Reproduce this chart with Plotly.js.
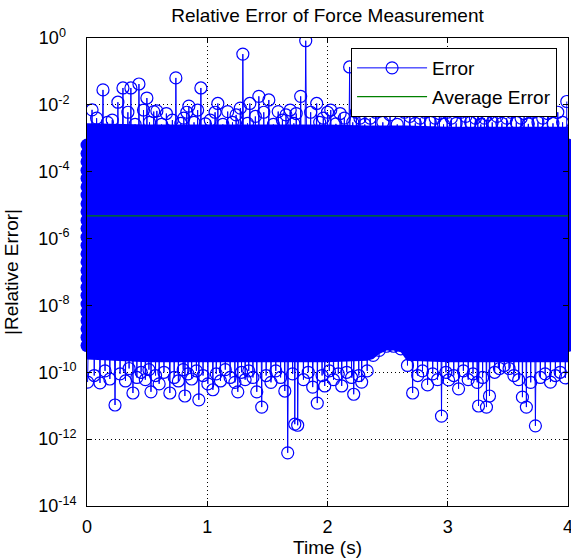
<!DOCTYPE html>
<html>
<head>
<meta charset="utf-8">
<script src="https://cdn.plot.ly/plotly-3.0.1.min.js"></script>
<style>html,body{margin:0;padding:0;background:#fff;}#chart{width:571px;height:560px;}</style>
</head>
<body>
<div id="chart"></div>
<script>
// ---- data ----
// Error series (time in s, |relative error|), sampled along the dense band and its outliers
var time = [0.005,0.042,0.06,0.08,0.108,0.133,0.15,0.17,0.19,0.21,0.233,0.257,0.275,0.299,0.32,0.34,0.35,0.365,0.382,0.40,
0.415,0.432,0.45,0.47,0.485,0.498,0.515,0.52,0.532,0.555,0.57,0.581,0.60,0.62,0.64,0.66,0.689,0.71,0.725,0.739,
0.76,0.78,0.80,0.805,0.814,0.83,0.84,0.847,0.87,0.89,0.91,0.92,0.93,0.947,0.965,0.985,1.005,1.025,1.047,1.065,
1.075,1.088,1.11,1.13,1.15,1.17,1.19,1.21,1.23,1.24,1.254,1.275,1.285,1.296,1.315,1.335,1.345,1.354,1.38,1.40,
1.412,1.429,1.453,1.47,1.49,1.512,1.53,1.55,1.57,1.59,1.61,1.625,1.645,1.655,1.669,1.69,1.71,1.72,1.728,1.74,
1.752,1.777,1.80,1.819,1.84,1.86,1.877,1.91,1.915,1.935,1.955,1.965,1.977,2.00,2.015,2.027,2.05,2.07,2.09,2.105,
2.118,2.14,2.16,2.184,2.20,2.21,2.218,2.24,2.26,2.27,2.284,2.31,2.33,2.355,2.38,2.40,2.43,2.46,2.49,2.52,
2.55,2.58,2.61,2.64,2.665,2.685,2.708,2.73,2.75,2.77,2.79,2.81,2.832,2.855,2.875,2.895,2.915,2.93,2.948,2.965,
2.985,2.995,3.007,3.03,3.05,3.07,3.09,3.11,3.13,3.15,3.17,3.19,3.21,3.23,3.245,3.25,3.256,3.275,3.29,3.305,
3.322,3.335,3.347,3.37,3.39,3.41,3.43,3.45,3.47,3.49,3.51,3.53,3.55,3.57,3.59,3.61,3.621,3.635,3.654,3.67,
3.69,3.71,3.729,3.75,3.77,3.79,3.81,3.83,3.854,3.875,3.895,3.915,3.935,3.955,3.978,3.99];
var err = [5.1e-11,7.1e-3,8e-11,4e-3,4.8e-11,2.8e-2,1.1e-10,3e-3,6.3e-11,3.5e-3,1.05e-11,1.2e-2,9e-11,3.2e-2,5.5e-11,6e-3,1.3e-10,3.2e-2,2.4e-11,2.6e-3,
7e-11,4.2e-2,1e-10,7e-3,6e-11,1.6e-2,1.2e-10,3e-3,2.6e-11,6.3e-3,8e-11,6.6e-3,4.5e-11,2.6e-3,1e-10,5.5e-3,2.4e-11,3.5e-3,7e-11,6.4e-2,
5.5e-11,2.8e-3,1.2e-10,4e-3,1.95e-11,6e-3,9e-11,9.2e-3,6.3e-11,3e-3,1.1e-10,7e-3,1.5e-11,3.2e-2,8e-11,2.7e-3,4.5e-11,3.5e-3,3.0e-11,6e-3,
9e-11,1.1e-2,5.5e-11,2.6e-3,1.2e-10,6.3e-3,7e-11,3e-3,5e-11,5e-3,2.6e-11,8e-3,1e-10,0.33,6e-11,2.8e-3,1.1e-10,1.1e-2,7e-11,4.5e-3,
2.6e-11,1.8e-2,9.1e-12,6e-3,8e-11,1.4e-2,5e-11,2.6e-3,1.1e-10,6.3e-3,7e-11,3.5e-3,2.75e-11,5e-3,3.9e-13,7e-3,9e-11,2.8e-3,2.8e-12,5.5e-3,
2.6e-12,1.8e-2,6e-11,0.83,1e-10,6e-3,3.6e-11,1.1e-2,1.2e-11,3e-3,8e-11,4e-3,3.9e-11,6e-3,1.1e-10,7e-3,6e-11,2.7e-3,9e-11,5.5e-3,
3.9e-11,4e-3,1e-10,0.136,7e-11,3e-3,2.2e-11,6e-3,8e-11,4e-3,5.1e-11,2.6e-3,1.1e-10,4e-3,3.2e-10,6e-3,4.5e-10,3e-3,6e-10,5e-3,
6e-10,2.6e-3,5e-10,6e-3,1.6e-10,4.5e-3,2.4e-11,2.8e-3,8e-11,4e-3,1.1e-10,6e-3,4.2e-11,3e-3,9e-11,4e-3,6e-11,5.5e-3,4.9e-12,2.6e-3,
1e-10,6e-3,5.9e-11,4e-3,8e-11,2.8e-3,3.2e-11,6e-3,1.1e-10,4.5e-3,6e-11,3e-3,9e-11,4e-3,5e-11,5.5e-3,9.8e-12,2.6e-3,7e-11,4e-3,
9.1e-12,5e-3,1.95e-11,3e-3,1e-10,4.5e-3,1.3e-10,2.8e-3,1.6e-10,4e-3,1.3e-10,6e-3,8e-11,3e-3,6e-11,4e-3,1.8e-11,5.5e-3,9.1e-12,2.7e-3,
5e-11,6e-3,2.5e-12,3e-3,7e-11,4e-3,9e-11,5.5e-3,5.1e-11,2.8e-3,8e-11,6e-3,1e-10,3e-3,6.8e-11,1.26e-2];

// Envelope of the solid (overplotted) part of the band
var envTime   = [0, 0.5, 1, 1.5, 2, 2.33, 2.38, 2.43, 2.49, 2.55, 2.61, 2.66, 3, 3.5, 4];
var envTop    = [2.8e-3,2.6e-3,2.6e-3,2.6e-3,2.6e-3,2.4e-3,2.4e-3,2.4e-3,2.4e-3,2.4e-3,2.4e-3,2.4e-3,2.2e-3,2.2e-3,2.2e-3];
var envBottom = [2.4e-10,2e-10,2e-10,2e-10,2e-10,2.2e-10,2.5e-10,3.5e-10,4.5e-10,4.5e-10,4e-10,2.2e-10,2e-10,2e-10,2e-10];

// Samples piled up at the first and last time stamps
var stripTime = [0, 4];
var stripErr  = [6.3e-4,3.5e-4,2e-4,1.1e-4,6.3e-5,3.5e-5,2e-5,1.1e-5,6.3e-6,3.5e-6,2e-6,1.1e-6,6.3e-7,
                 3.5e-7,2e-7,1.1e-7,6.3e-8,3.5e-8,2e-8,1.1e-8,6.3e-9,3.5e-9,2e-9,1.1e-9,6.3e-10];

// Average error
var avgTime = [0, 4];
var avgErr  = [4.8e-6, 4.8e-6];

// Ticks
var xTicks = [0, 1, 2, 3, 4];
var yTickVals = [1, 1e-2, 1e-4, 1e-6, 1e-8, 1e-10, 1e-12, 1e-14];
var yTickText = ['10<sup>0&nbsp;&nbsp;&nbsp;</sup>','10<sup>-2&nbsp;&nbsp;</sup>','10<sup>-4&nbsp;&nbsp;</sup>','10<sup>-6&nbsp;&nbsp;</sup>',
                 '10<sup>-8&nbsp;&nbsp;</sup>','10<sup>-10</sup>','10<sup>-12</sup>','10<sup>-14</sup>'];

// ---- traces ----
var BLUE = 'rgb(0,0,255)';
var GREEN = 'rgb(0,128,0)';
var FONT = 'Liberation Sans, Arial, Helvetica, sans-serif';

var stripX = [], stripY = [];
stripTime.forEach(function (t) { stripErr.forEach(function (v) { stripX.push(t); stripY.push(v); }); });

var traces = [
  { x: envTime, y: envBottom, type: 'scatter', mode: 'lines', line: {width: 0, color: BLUE},
    showlegend: false, hoverinfo: 'skip' },
  { x: envTime, y: envTop, type: 'scatter', mode: 'lines', line: {width: 0, color: BLUE},
    fill: 'tonexty', fillcolor: BLUE, showlegend: false, hoverinfo: 'skip' },
  { x: time, y: err, type: 'scatter', mode: 'lines+markers', name: 'Error', legendgroup: 'a',
    line: {color: BLUE, width: 1},
    marker: {symbol: 'circle-open', size: 12, color: BLUE, line: {width: 1.2, color: BLUE}} },
  { x: stripX, y: stripY, type: 'scatter', mode: 'markers', showlegend: false, cliponaxis: false,
    marker: {symbol: 'circle', size: 13, color: BLUE}, hoverinfo: 'skip' },
  { x: avgTime, y: avgErr, type: 'scatter', mode: 'lines', name: 'Average Error', legendgroup: 'b',
    line: {color: GREEN, width: 1.2} }
];

var axisCommon = {
  showline: true, linecolor: 'black', linewidth: 1, mirror: 'ticks',
  ticks: 'inside', ticklen: 5, tickcolor: 'black', tickwidth: 1,
  showgrid: true, gridcolor: 'black', gridwidth: 1, griddash: '1px,3px',
  zeroline: false, ticklabeloverflow: 'allow',
  tickfont: {family: FONT, size: 18, color: 'black'}
};

var layout = {
  width: 571, height: 560,
  margin: {l: 87, r: 3, t: 38, b: 54, pad: 0},
  paper_bgcolor: 'white', plot_bgcolor: 'white',
  font: {family: FONT, size: 18, color: 'black'},
  title: {text: 'Relative Error of Force Measurement', font: {family: FONT, size: 19, color: 'black'},
          x: 0.5, xref: 'paper', xanchor: 'center', y: 1 - 15 / 560, yref: 'container', yanchor: 'middle'},
  xaxis: Object.assign({}, axisCommon, {
    range: [0, 4], tickmode: 'array', tickvals: xTicks, ticktext: xTicks.map(String),
    ticklabelstandoff: 4,
    title: {text: 'Time (s)', font: {family: FONT, size: 19, color: 'black'}, standoff: 4}
  }),
  yaxis: Object.assign({}, axisCommon, {
    type: 'log', range: [-14, 0], tickmode: 'array', tickvals: yTickVals, ticktext: yTickText,
    ticklabelstandoff: 6,
    title: {text: '|Relative Error|', font: {family: FONT, size: 19, color: 'black'}, standoff: 14}
  }),
  legend: {x: 0.549, y: 0.9786, xanchor: 'left', yanchor: 'top', bgcolor: 'white',
           bordercolor: 'black', borderwidth: 1, font: {family: FONT, size: 19, color: 'black'},
           traceorder: 'grouped', tracegroupgap: 1, itemwidth: 70},
  showlegend: true
};

Plotly.newPlot('chart', traces, layout, {staticPlot: true, displayModeBar: false});
</script>
</body>
</html>
